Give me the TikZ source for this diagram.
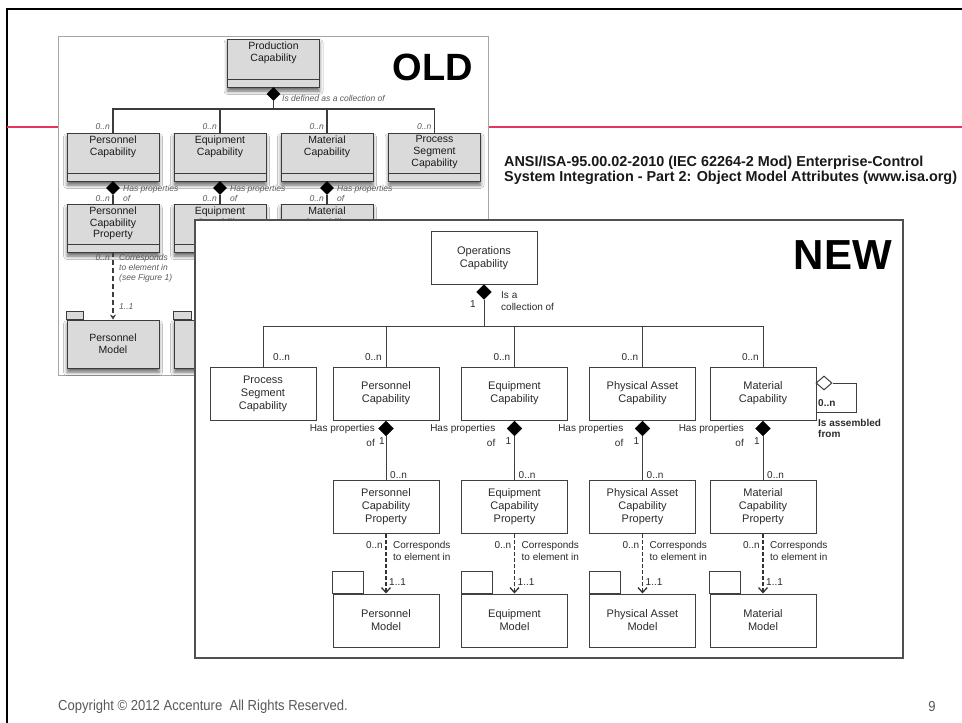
\documentclass[tikz,border=0pt]{standalone}
\usepackage{fontspec}
\setmainfont{Liberation Sans}
\newfontfamily\footfont[FakeStretch=0.9]{Liberation Sans}
\usetikzlibrary{shapes.geometric,arrows.meta,shadows.blur}
\definecolor{linec}{HTML}{404040}
\definecolor{txtc}{HTML}{2B2B2B}
\definecolor{oline}{HTML}{3C3C3C}
\definecolor{ofill}{HTML}{DADADA}
\definecolor{otxt}{HTML}{1A1A1A}
\definecolor{olbl}{HTML}{5A5A5A}
\definecolor{frameold}{HTML}{A6A6A6}
\definecolor{framenew}{HTML}{505050}
\definecolor{redline}{HTML}{E8335E}
\definecolor{footc}{HTML}{595959}
\tikzset{
  nbox/.style={draw=linec, line width=1pt, fill=white, minimum width=106pt, minimum height=53pt,
    inner sep=0pt, align=center, text=txtc, font=\fontsize{11}{13}\selectfont},
  fdiam/.style={diamond, fill=black, draw=black, line width=0.3pt, minimum width=15pt, minimum height=15pt, inner sep=0pt},
  hdiam/.style={diamond, fill=white, draw=linec, line width=1pt, minimum width=16pt, minimum height=14pt, inner sep=0pt},
  lbl/.style={font=\fontsize{10}{12}\selectfont, inner sep=0pt, text=txtc, align=left},
  blbl/.style={font=\fontsize{10}{11}\selectfont\bfseries, inner sep=0pt, text=txtc, align=left},
  conn/.style={draw=linec, line width=1pt},
  dconn/.style={draw=black!80, line width=1.3pt, dash pattern=on 3.5pt off 2.5pt,
    -{Straight Barb[length=5pt,width=9pt,line width=1.3pt]}},
  tabbox/.style={draw=linec, line width=1pt, fill=white},
  obox/.style={draw=oline, fill=ofill, line width=0.9pt, minimum width=92pt, minimum height=48pt, inner sep=0pt,
    blur shadow={shadow xshift=0pt, shadow yshift=-4pt, shadow blur radius=3.5pt, shadow opacity=60},
    path picture={\draw[oline, line width=0.9pt] ([yshift=8pt]path picture bounding box.south west) -- ([yshift=8pt]path picture bounding box.south east);}},
  omodel/.style={draw=oline, fill=ofill, line width=0.9pt, minimum width=92pt, minimum height=48pt, inner sep=0pt,
    align=center, text=otxt, font=\fontsize{10.5}{12}\selectfont,
    blur shadow={shadow xshift=0pt, shadow yshift=-4pt, shadow blur radius=3.5pt, shadow opacity=60}},
  otext/.style={font=\fontsize{10.5}{11.8}\selectfont, align=center, text=otxt, anchor=north, yshift=-3pt, inner sep=0pt},
  odiam/.style={diamond, fill=black, minimum width=14pt, minimum height=14pt, inner sep=0pt},
  olab/.style={font=\fontsize{8.5}{10}\selectfont\itshape, inner sep=0pt, text=olbl, align=left},
  oconn/.style={draw=oline, line width=1.3pt},
  odconn/.style={draw=oline, line width=1.3pt, dash pattern=on 5pt off 3pt, -{Stealth[length=5pt,width=6pt]}},
  foottext/.style={font=\footfont\fontsize{14.5}{16}\selectfont, text=footc, inner sep=0pt},
}
\begin{document}
\begin{tikzpicture}[x=1pt,y=-1pt]
\useasboundingbox (0,0) rectangle (962,723);
\fill[white] (0,0) rectangle (962,723);
% slide frame
\draw[black, line width=2pt] (7,723) -- (7,9) -- (962,9);
\draw[redline, line width=2pt] (7,127) -- (962,127);

% ================= OLD =================
\draw[frameold, fill=white, line width=1pt] (58,36) rectangle (488,375);
\node[font=\fontsize{38}{38}\selectfont\bfseries, anchor=base east, inner sep=0pt] (oldt) at (473,80) {OLD};

\node[obox, label={[otext]north:Production\\Capability}] (oprod) at (273.5,63) {};
\node[odiam] (od0) at (273.5,94) {};
\node[olab, anchor=west] (oisdef) at (282,98) {Is defined as a collection of};
\coordinate (obar) at (0,109);

\node[obox, label={[otext]north:Personnel\\Capability}] (opc) at (113,157) {};
\node[obox, label={[otext]north:Equipment\\Capability}] (oec) at (220,157) {};
\node[obox, label={[otext]north:Material\\Capability}] (omc) at (327,157) {};
\node[obox, label={[otext]north:Process\\Segment\\Capability}] (opsc) at (434.5,157) {};

\draw[oconn] (od0.south) -- (od0.south |- obar);
\draw[oconn] (opc.north) -- (opc.north |- obar) -- (opsc.north |- obar) -- (opsc.north);
\draw[oconn] (oec.north) -- (oec.north |- obar);
\draw[oconn] (omc.north) -- (omc.north |- obar);
\foreach \n in {opc,oec,omc,opsc}{
  \node[olab, anchor=east] at ([xshift=-3pt]\n.north |- 0,127) {0..n};
}

\node[obox, label={[otext]north:Personnel\\Capability\\Property}] (opcp) at (113,228) {};
\node[obox, label={[otext]north:Equipment\\Capability\\Property}] (oecp) at (220,228) {};
\node[obox, label={[otext]north:Material\\Capability\\Property}] (omcp) at (327,228) {};

\foreach \a/\b/\x in {opc/opcp/113, oec/oecp/220, omc/omcp/327}{
  \node[odiam] (d\a) at (\x,188) {};
  \draw[oconn] (d\a.south) -- (\b.north);
  \node[olab, anchor=west] at (\x+10,193.5) {Has properties\\of};
  \node[olab, anchor=east] at (\x-3,199) {0..n};
}

\node[omodel] (opm) at (113,344) {Personnel\\Model};
\draw[draw=oline, fill=ofill, line width=0.9pt] (opm.north west) rectangle ++(17,-8);
\node[omodel] (oem) at (220,344) {Equipment\\Model};
\draw[draw=oline, fill=ofill, line width=0.9pt] (oem.north west) rectangle ++(18,-8);

\draw[odconn] (opcp.south) -- (opm.north);
\node[olab, anchor=east] at (110,258) {0..n};
\node[olab, anchor=west] at (119,268) {Corresponds\\to element in\\(see Figure 1)};
\node[olab, anchor=west] at (119,307) {1..1};

% header text
\node[font=\fontsize{14.4}{15}\selectfont\bfseries, anchor=west, align=left, inner sep=0pt, text=black!90] (hdr) at (504,170.5)
  {ANSI/ISA-95.00.02-2010 (IEC 62264-2 Mod) Enterprise-Control\\System Integration - Part 2: Object Model Attributes (www.isa.org)};

% ================= NEW =================
\draw[framenew, fill=white, line width=1.4pt] (195,220) rectangle (903,658);
\node[font=\fontsize{42}{42}\selectfont\bfseries, anchor=base east, inner sep=0pt] (newt) at (892,269) {NEW};

\node[nbox] (ops) at (484,258) {Operations\\Capability};
\node[fdiam] (d0) at (484,292) {};
\node[lbl, anchor=east] at (476,304) {1};
\node[lbl, anchor=west] at (501,301) {Is a\\collection of};
\coordinate (bar) at (0,326);

\node[nbox] (psc) at (263,393.5) {Process\\Segment\\Capability};
\node[nbox] (pc) at (386,393.5) {Personnel\\Capability};
\node[nbox] (ec) at (514.5,393.5) {Equipment\\Capability};
\node[nbox] (pac) at (642.5,393.5) {Physical Asset\\Capability};
\node[nbox] (mc) at (763,393.5) {Material\\Capability};

\draw[conn] (d0.south) -- (d0.south |- bar);
\draw[conn] (psc.north) -- (psc.north |- bar) -- (mc.north |- bar) -- (mc.north);
\draw[conn] (pc.north) -- (pc.north |- bar);
\draw[conn] (ec.north) -- (ec.north |- bar);
\draw[conn] (pac.north) -- (pac.north |- bar);

\node[lbl, anchor=west] at (273,357) {0..n};
\foreach \n in {pc,ec,pac,mc}{
  \node[lbl, anchor=east] at ([xshift=-4pt]\n.north |- 0,357) {0..n};
}

% self aggregation
\node[hdiam] (mself) at (824,383) {};
\draw[conn] (mself.east) -- ++(24,0) |- ([yshift=8pt]mc.south east);
\node[blbl, anchor=west] at (818,403) {0..n};
\node[blbl, anchor=west] at (818,428.5) {Is assembled\\from};

% row 3
\node[nbox] (pcp) at (386,507) {Personnel\\Capability\\Property};
\node[nbox] (ecp) at (514.5,507) {Equipment\\Capability\\Property};
\node[nbox] (pacp) at (642.5,507) {Physical Asset\\Capability\\Property};
\node[nbox] (mcp) at (763,507) {Material\\Capability\\Property};

% models
\node[nbox] (pm) at (386,620.5) {Personnel\\Model};
\node[nbox] (em) at (514.5,620.5) {Equipment\\Model};
\node[nbox] (pam) at (642.5,620.5) {Physical Asset\\Model};
\node[nbox] (mm) at (763,620.5) {Material\\Model};
\foreach \m in {pm,em,pam,mm}{
  \draw[tabbox] (\m.north west) rectangle ++(31,-22);
}

\foreach \a/\b/\c/\hoff/\gap in {pc/pcp/pm/11/4, ec/ecp/em/19/10, pac/pacp/pam/19/10, mc/mcp/mm/19/10}{
  \node[fdiam] (d\a) at ([yshift=-8pt]\a.south) {};
  \draw[conn] (d\a.south) -- (\b.north);
  \node[lbl, anchor=east] (hp\a) at ([xshift=-\hoff pt]d\a.center) {Has properties};
  \node[lbl, anchor=north east] (of\a) at ([yshift=-6pt]hp\a.south east) {of};
  \node[lbl, anchor=west] at ([xshift=\gap pt, yshift=2pt]of\a.east) {1};
  \node[lbl, anchor=west] at ([xshift=4pt]\b.north |- 0,475) {0..n};
  \draw[dconn] (\b.south) -- (\c.north);
  \node[lbl, anchor=east] at ([xshift=-3pt]\b.south |- 0,545) {0..n};
  \node[lbl, anchor=west] at ([xshift=7pt]\b.south |- 0,551) {Corresponds\\to element in};
  \node[lbl, anchor=west] at ([xshift=3pt]\c.north |- 0,582) {1..1};
}

% footer
\node[foottext, anchor=west] (foot) at (58,707)
  {Copyright \textcopyright{} 2012 Accenture\ \ All Rights Reserved.};
\node[foottext] (pg) at (932,707) {9};
\end{tikzpicture}
\end{document}
